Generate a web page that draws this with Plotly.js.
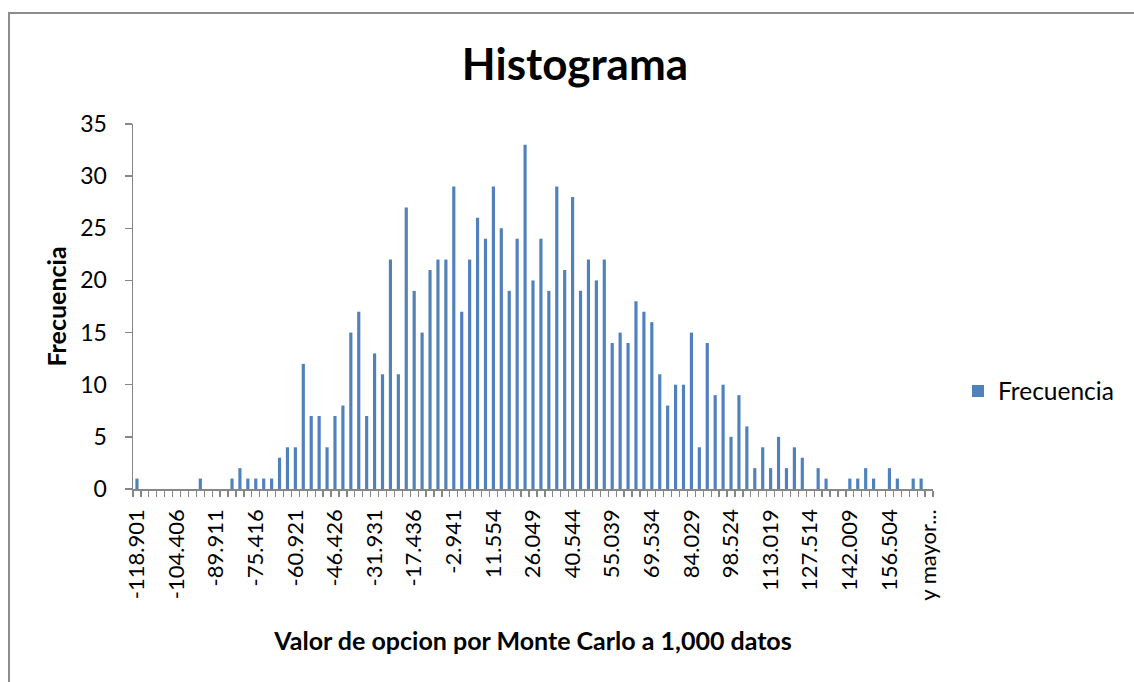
<!DOCTYPE html>
<html>
<head>
<meta charset="utf-8">
<script src="https://cdn.plot.ly/plotly-3.0.1.min.js"></script>
<style>
  html, body { margin: 0; padding: 0; background: #ffffff; }
  #wrap { position: relative; width: 1134px; height: 682px; overflow: hidden; background: #fff; }
  #chart { position: absolute; left: 0; top: 0; width: 1134px; height: 682px; }
  #frame { position: absolute; left: 8px; top: 12px; width: 1200px; height: 800px;
           border-left: 2px solid #8c8c8c; border-top: 2px solid #8c8c8c; pointer-events: none; }
</style>
</head>
<body>
<div id="wrap">
  <div id="chart"></div>
  <div id="frame"></div>
</div>
<script>
// Bin labels (class marks) as shown on the category axis
const categories = [
  "-118.901","-116.002","-113.103","-110.204","-107.305",
  "-104.406","-101.507","-98.608","-95.709","-92.810",
  "-89.911","-87.012","-84.113","-81.214","-78.315",
  "-75.416","-72.517","-69.618","-66.719","-63.820",
  "-60.921","-58.022","-55.123","-52.224","-49.325",
  "-46.426","-43.527","-40.628","-37.729","-34.830",
  "-31.931","-29.032","-26.133","-23.234","-20.335",
  "-17.436","-14.537","-11.638","-8.739","-5.840",
  "-2.941","-0.042","2.857","5.756","8.655",
  "11.554","14.453","17.352","20.251","23.150",
  "26.049","28.948","31.847","34.746","37.645",
  "40.544","43.443","46.342","49.241","52.140",
  "55.039","57.938","60.837","63.736","66.635",
  "69.534","72.433","75.332","78.231","81.130",
  "84.029","86.928","89.827","92.726","95.625",
  "98.524","101.423","104.322","107.221","110.120",
  "113.019","115.918","118.817","121.716","124.615",
  "127.514","130.413","133.312","136.211","139.110",
  "142.009","144.908","147.807","150.706","153.605",
  "156.504","159.403","162.302","165.201","168.100",
  "y mayor..."
];

// Frequencies
const frecuencia = [
  1,0,0,0,0, 0,0,0,1,0,
  0,0,1,2,1, 1,1,1,3,4,
  4,12,7,7,4, 7,8,15,17,7,
  13,11,22,11,27, 19,15,21,22,22,
  29,17,22,26,24, 29,25,19,24,33,
  20,24,19,29,21, 28,19,22,20,22,
  14,15,14,18,17, 16,11,8,10,10,
  15,4,14,9,10, 5,9,6,2,4,
  2,5,2,4,3, 0,2,1,0,0,
  1,1,2,1,0, 2,1,0,1,1,
  0
];

// Tick labels that are displayed (every 5th category)
const shownLabels = [
  "-118.901","-104.406","-89.911","-75.416","-60.921","-46.426","-31.931",
  "-17.436","-2.941","11.554","26.049","40.544","55.039","69.534","84.029",
  "98.524","113.019","127.514","142.009","156.504","y mayor..."
];

const yTicks = [0, 5, 10, 15, 20, 25, 30, 35];

const FONT = "Lato, 'Open Sans', 'DejaVu Sans', sans-serif";
const AXIS_COLOR = "#868686";

const tickText = categories.map(c => shownLabels.includes(c) ? c : "");

const trace = {
  type: "bar",
  name: "Frecuencia",
  x: categories,
  y: frecuencia,
  marker: { color: "#4F81BD", line: { width: 0 } },
  hoverinfo: "x+y"
};

const layout = {
  width: 1134,
  height: 682,
  paper_bgcolor: "rgba(0,0,0,0)",
  plot_bgcolor: "rgba(0,0,0,0)",
  margin: { l: 133, r: 201, t: 124, b: 193 },
  font: { family: FONT, color: "#000000", size: 22 },
  bargap: 0.6,
  showlegend: true,
  title: {
    text: "<b>Histograma</b>",
    font: { family: FONT, size: 44, color: "#000" },
    xref: "container", x: 575 / 1134, xanchor: "center",
    yref: "container", y: 1 - 65 / 682, yanchor: "middle"
  },
  xaxis: {
    type: "category",
    categoryorder: "array",
    categoryarray: categories,
    tickmode: "array",
    tickvals: categories,
    ticktext: tickText,
    tickangle: -90,
    tickson: "boundaries",
    ticks: "outside",
    ticklen: 6,
    tickcolor: AXIS_COLOR,
    tickwidth: 1.3,
    ticklabelstandoff: 10,
    tickfont: { family: FONT, size: 22, color: "#000" },
    showline: true,
    linecolor: AXIS_COLOR,
    linewidth: 1.5,
    showgrid: false,
    zeroline: false,
    range: [-0.5, categories.length - 0.5],
    title: {
      text: "<b>Valor de opcion por Monte Carlo a 1,000 datos</b>",
      font: { family: FONT, size: 25, color: "#000" },
      standoff: 33
    }
  },
  yaxis: {
    range: [0, 35],
    tickmode: "array",
    tickvals: yTicks,
    ticktext: yTicks.map(String),
    ticks: "outside",
    ticklen: 7,
    tickcolor: AXIS_COLOR,
    tickwidth: 1.3,
    ticklabelstandoff: 13,
    tickfont: { family: FONT, size: 23, color: "#000" },
    showline: true,
    linecolor: AXIS_COLOR,
    linewidth: 1.5,
    showgrid: false,
    zeroline: false,
    title: {
      text: "<b>Frecuencia</b>",
      font: { family: FONT, size: 25, color: "#000" },
      standoff: 6
    }
  },
  legend: {
    x: (958 - 133) / 800,
    xanchor: "left",
    y: (489 - 391) / 365,
    yanchor: "middle",
    font: { family: FONT, size: 24.5, color: "#000" },
    bgcolor: "rgba(0,0,0,0)",
    borderwidth: 0
  }
};

Plotly.newPlot("chart", [trace], layout, { displayModeBar: false, staticPlot: true });
</script>
</body>
</html>
